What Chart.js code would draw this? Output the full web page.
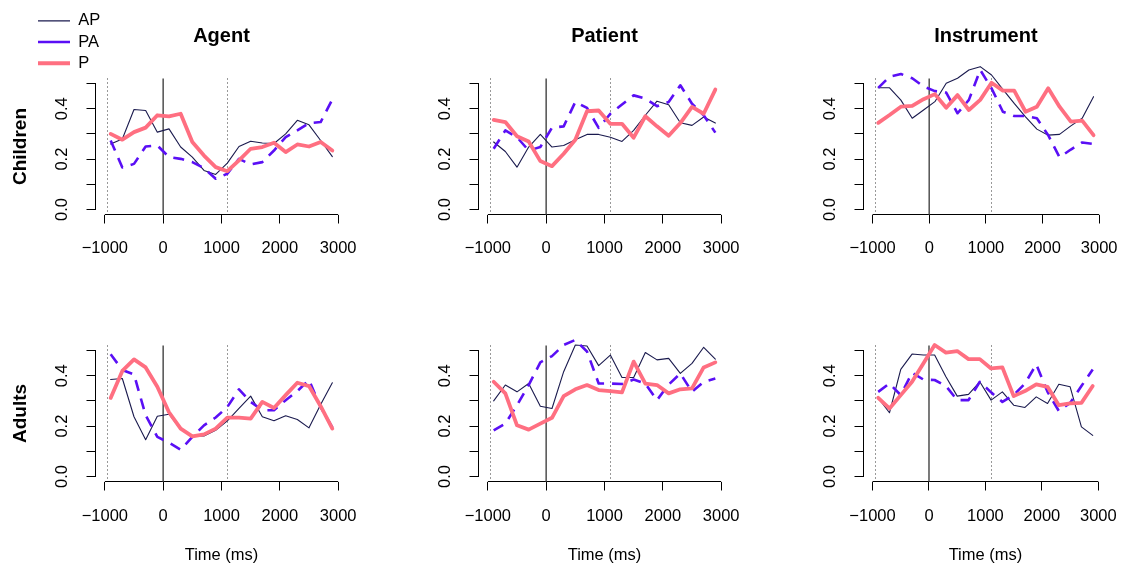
<!DOCTYPE html>
<html><head><meta charset="utf-8">
<script src="https://cdn.jsdelivr.net/npm/chart.js@4.4.1/dist/chart.umd.min.js"></script>
<style>
html,body{margin:0;padding:0;background:#fff;}
#wrap{position:relative;width:1134px;height:568px;overflow:hidden;background:#fff;}
#wrap canvas{position:absolute;left:0;top:0;}
</style></head>
<body><div id="wrap"></div>
<script>
// ---------- data ----------
const times = [-900,-700,-500,-300,-100,100,300,500,700,900,1100,1300,1500,1700,1900,2100,2300,2500,2700,2900];
const seriesNames = ['AP','PA','P'];
const roleTitles = ['Agent','Patient','Instrument'];
const groupNames = ['Children','Adults'];
const xTickValues = [-1000,0,1000,2000,3000];
const xTickLabels = ['\u22121000','0','1000','2000','3000'];
const yTickValues = [0,0.1,0.2,0.3,0.4,0.5];
const yTickLabels = ['0.0','','0.2','','0.4',''];
const onsetLines = [-965,1095];
const xTitle = 'Time (ms)';

const childrenAgentAP = [0.26,0.28,0.397,0.393,0.307,0.32,0.248,0.208,0.155,0.139,0.184,0.25,0.271,0.264,0.262,0.30,0.354,0.336,0.274,0.21];
const childrenAgentPA = [0.274,0.167,0.181,0.25,0.254,0.208,0.201,0.188,0.164,0.122,0.142,0.201,0.179,0.188,0.234,0.287,0.314,0.343,0.347,0.437];
const childrenAgentP  = [0.30,0.277,0.307,0.325,0.374,0.37,0.38,0.268,0.214,0.168,0.152,0.195,0.241,0.248,0.265,0.228,0.258,0.25,0.268,0.234];

const childrenPatientAP = [0.268,0.23,0.168,0.248,0.298,0.248,0.254,0.277,0.298,0.298,0.287,0.27,0.314,0.374,0.43,0.416,0.344,0.334,0.367,0.343];
const childrenPatientPA = [0.241,0.314,0.287,0.234,0.248,0.325,0.33,0.427,0.403,0.324,0.38,0.417,0.453,0.44,0.41,0.427,0.493,0.42,0.374,0.305];
const childrenPatientP  = [0.356,0.347,0.291,0.27,0.192,0.172,0.221,0.277,0.39,0.393,0.34,0.34,0.285,0.37,0.33,0.293,0.343,0.407,0.38,0.476];

const childrenInstrumentAP = [0.483,0.483,0.434,0.362,0.395,0.428,0.501,0.521,0.554,0.567,0.534,0.477,0.421,0.368,0.319,0.295,0.298,0.332,0.362,0.448];
const childrenInstrumentPA = [0.483,0.527,0.538,0.521,0.488,0.47,0.464,0.382,0.435,0.554,0.481,0.388,0.371,0.371,0.362,0.295,0.207,0.238,0.266,0.26];
const childrenInstrumentP  = [0.344,0.375,0.408,0.411,0.438,0.458,0.404,0.454,0.395,0.435,0.503,0.472,0.472,0.388,0.408,0.481,0.408,0.349,0.353,0.295];

const adultsAgentAP = [0.385,0.389,0.237,0.146,0.239,0.247,0.187,0.161,0.161,0.183,0.221,0.27,0.319,0.237,0.221,0.241,0.226,0.193,0.286,0.372];
const adultsAgentPA = [0.485,0.423,0.405,0.243,0.157,0.134,0.106,0.157,0.203,0.234,0.276,0.346,0.296,0.263,0.263,0.303,0.339,0.383,0.275,0.195];
const adultsAgentP  = [0.312,0.419,0.465,0.433,0.356,0.255,0.19,0.159,0.167,0.19,0.234,0.234,0.23,0.296,0.272,0.323,0.372,0.359,0.279,0.19];

const adultsPatientAP = [0.30,0.363,0.336,0.369,0.279,0.27,0.416,0.522,0.518,0.44,0.482,0.393,0.393,0.492,0.463,0.469,0.409,0.449,0.513,0.466];
const adultsPatientPA = [0.183,0.21,0.283,0.363,0.453,0.478,0.522,0.542,0.496,0.369,0.369,0.367,0.385,0.369,0.303,0.365,0.409,0.336,0.376,0.389];
const adultsPatientP  = [0.376,0.33,0.203,0.186,0.21,0.233,0.319,0.346,0.363,0.343,0.339,0.334,0.456,0.369,0.363,0.33,0.346,0.35,0.433,0.453];

const adultsInstrumentAP = [0.312,0.253,0.425,0.486,0.482,0.482,0.396,0.319,0.326,0.376,0.303,0.336,0.283,0.274,0.316,0.29,0.366,0.356,0.197,0.163];
const adultsInstrumentPA = [0.336,0.369,0.323,0.412,0.385,0.383,0.359,0.303,0.303,0.376,0.334,0.296,0.323,0.369,0.445,0.336,0.26,0.292,0.359,0.425];
const adultsInstrumentP  = [0.312,0.27,0.323,0.376,0.449,0.522,0.492,0.498,0.466,0.466,0.429,0.433,0.319,0.339,0.366,0.356,0.283,0.29,0.292,0.359];

const panelData = [
  [[childrenAgentAP, childrenAgentPA, childrenAgentP],
   [childrenPatientAP, childrenPatientPA, childrenPatientP],
   [childrenInstrumentAP, childrenInstrumentPA, childrenInstrumentP]],
  [[adultsAgentAP, adultsAgentPA, adultsAgentP],
   [adultsPatientAP, adultsPatientPA, adultsPatientP],
   [adultsInstrumentAP, adultsInstrumentPA, adultsInstrumentP]]
];

// ---------- style / layout ----------
const FONT = "'Liberation Sans', Arial, Helvetica, sans-serif";
const seriesColors = ['#1a1a4e', '#5a0ff5', '#ff6f81'];
const seriesWidths = [1.1, 2.6, 3.8];
const seriesDashes = [[], [11, 8], []];
const seriesOrder = [3, 2, 1];
const W = 1134, H = 568;
const colLeft = [95.5, 478.5, 863.5];
const plotW = 252;
const rowTop = [78.5, 345.5];
const rowBottom = [214.5, 481.5];
const YW = 86.4;
const XH = [60, 84];
const xTickPad = [15.5, 16.3];

const refLines = {
  id: 'refLines',
  beforeDatasetsDraw(chart) {
    const {ctx, chartArea: a, scales: {x, y}} = chart;
    ctx.save();
    ctx.strokeStyle = '#000'; ctx.lineWidth = 1; ctx.setLineDash([]);
    ctx.beginPath();
    ctx.moveTo(x.getPixelForValue(xTickValues[0]), a.bottom);
    ctx.lineTo(x.getPixelForValue(xTickValues[xTickValues.length - 1]), a.bottom);
    ctx.moveTo(a.left, y.getPixelForValue(yTickValues[0]));
    ctx.lineTo(a.left, y.getPixelForValue(yTickValues[yTickValues.length - 1]));
    ctx.stroke();
    const x0 = x.getPixelForValue(0);
    ctx.strokeStyle = '#5a5a5a'; ctx.lineWidth = 1.6;
    ctx.beginPath(); ctx.moveTo(x0, a.top); ctx.lineTo(x0, a.bottom); ctx.stroke();
    ctx.strokeStyle = '#333'; ctx.lineWidth = 1; ctx.setLineDash([1, 3]);
    onsetLines.forEach(v => {
      const px = Math.round(x.getPixelForValue(v)) + 0.5;
      ctx.beginPath(); ctx.moveTo(px, a.top); ctx.lineTo(px, a.bottom); ctx.stroke();
    });
    ctx.restore();
  }
};

const legendPlacer = {
  id: 'legendPlacer',
  afterUpdate(chart) {
    const lg = chart.legend;
    if (!lg) return;
    const w = lg.width, h = lg.height;
    lg.left = 33.3; lg.top = 7.9;
    lg.right = lg.left + w; lg.bottom = lg.top + h;
  }
};

const wrap = document.getElementById('wrap');

function makePanel(r, c) {
  const cv = document.createElement('canvas');
  cv.width = W; cv.height = H;
  wrap.appendChild(cv);
  const L = colLeft[c], R = L + plotW, T = rowTop[r], B = rowBottom[r];
  const hasTitle = r === 0;
  const withLegend = r === 0 && c === 0;
  const sets = panelData[r][c];
  new Chart(cv, {
    type: 'line',
    data: {
      datasets: sets.map((vals, i) => ({
        label: seriesNames[i],
        data: times.map((t, k) => ({x: t, y: vals[k]})),
        borderColor: seriesColors[i],
        backgroundColor: seriesColors[i],
        borderWidth: seriesWidths[i],
        borderDash: seriesDashes[i],
        borderCapStyle: i === 1 ? 'butt' : 'round',
        borderJoinStyle: 'round',
        pointRadius: 0,
        pointHoverRadius: 0,
        tension: 0,
        fill: false,
        clip: false,
        order: seriesOrder[i]
      }))
    },
    options: {
      responsive: false,
      animation: false,
      events: [],
      layout: {
        autoPadding: false,
        padding: {left: L - YW, right: W - R, top: hasTitle ? 0 : T, bottom: H - B - XH[r]}
      },
      plugins: {
        tooltip: {enabled: false},
        legend: {
          display: withLegend,
          position: 'chartArea',
          align: 'start',
          labels: {
            usePointStyle: true,
            pointStyle: 'line',
            pointStyleWidth: 32,
            padding: 4.7,
            color: '#000',
            font: {family: FONT, size: 16.5},
            sort: (a, b) => a.datasetIndex - b.datasetIndex
          }
        },
        title: {
          display: hasTitle,
          text: roleTitles[c],
          fullSize: false,
          color: '#000',
          font: {family: FONT, size: 20, weight: 'bold'},
          padding: {top: 24.4, bottom: 30.1}
        }
      },
      scales: {
        x: {
          type: 'linear',
          min: -1160, max: 3160,
          afterBuildTicks: s => { s.ticks = xTickValues.map(v => ({value: v})); },
          afterFit: s => { s.height = XH[r]; },
          grid: {display: true, drawOnChartArea: false, drawTicks: true, tickLength: 9, color: '#000', lineWidth: 1},
          border: {display: false},
          ticks: {
            autoSkip: false, minRotation: 0, maxRotation: 0,
            padding: xTickPad[r], color: '#000',
            font: {family: FONT, size: 16.5},
            callback: v => xTickLabels[xTickValues.indexOf(v)]
          },
          title: {
            display: r === 1, text: xTitle, color: '#000',
            font: {family: FONT, size: 16.5}, padding: {top: 0, bottom: 0}
          }
        },
        y: {
          type: 'linear',
          min: -0.02, max: 0.52,
          afterBuildTicks: s => { s.ticks = yTickValues.map(v => ({value: v})); },
          afterFit: s => { s.width = YW; },
          grid: {display: true, drawOnChartArea: false, drawTicks: true, tickLength: 9, color: '#000', lineWidth: 1},
          border: {display: false},
          ticks: {
            autoSkip: false, minRotation: 90, maxRotation: 90, crossAlign: 'center',
            padding: 12.25, color: '#000',
            font: {family: FONT, size: 16.5},
            callback: v => yTickLabels[yTickValues.findIndex(t => Math.abs(t - v) < 1e-9)]
          },
          title: {
            display: c === 0, text: groupNames[r], color: '#000',
            font: {family: FONT, size: 19, weight: 'bold'}, padding: {top: 0, bottom: 0}
          }
        }
      }
    },
    plugins: withLegend ? [refLines, legendPlacer] : [refLines]
  });
}

for (let r = 0; r < 2; r++) for (let c = 0; c < 3; c++) makePanel(r, c);
</script>
</body></html>
